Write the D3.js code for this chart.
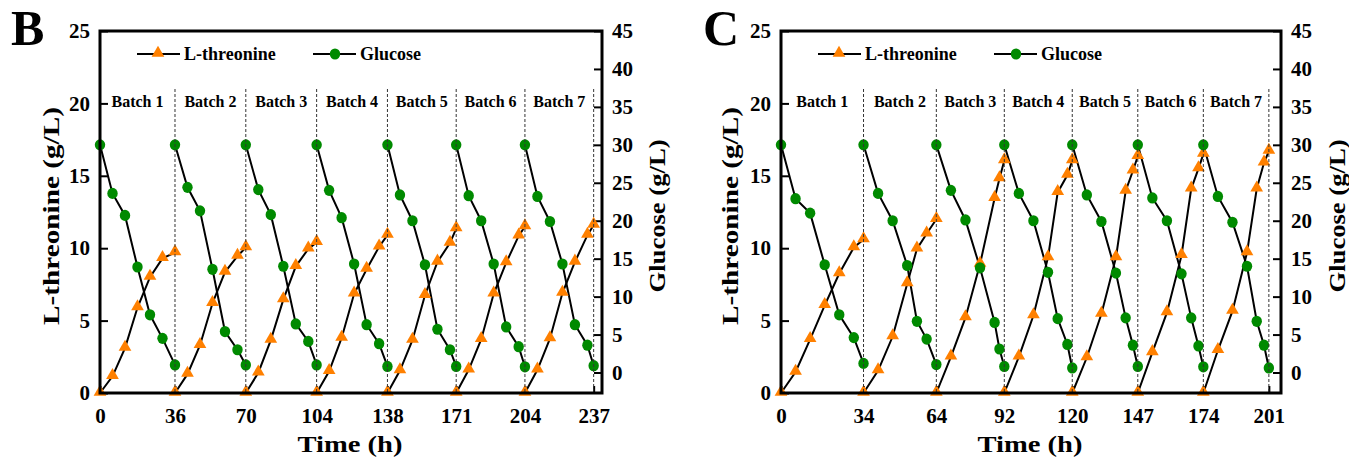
<!DOCTYPE html>
<html>
<head>
<meta charset="utf-8">
<script src="https://cdn.jsdelivr.net/npm/d3@7"></script>
<style>
  body { margin: 0; background: #fff; }
  svg text { font-family: "Liberation Serif", "Times New Roman", serif; font-weight: bold; }
</style>
</head>
<body>
<svg id="chart" width="1349" height="458"></svg>
<script>
// batch labels and axis ticks
var batchLabels = ["Batch 1", "Batch 2", "Batch 3", "Batch 4", "Batch 5", "Batch 6", "Batch 7"];
var leftTicks = [0, 5, 10, 15, 20, 25];
var rightTicks = [0, 5, 10, 15, 20, 25, 30, 35, 40, 45];

// panel B
var ticksB = [0, 36, 70, 104, 138, 171, 204, 237];
var timeB = [
  [0, 6, 12, 18, 24, 30, 36],
  [36, 42, 48, 54, 60, 66, 70],
  [70, 76, 82, 88, 94, 100, 104],
  [104, 110, 116, 122, 128, 134, 138],
  [138, 144, 150, 156, 162, 168, 171],
  [171, 177, 183, 189, 195, 201, 204],
  [204, 210, 216, 222, 228, 234, 237]
];
var thrB = [
  [0, 1.15, 3.1, 5.9, 8.0, 9.3, 9.7],
  [0, 1.3, 3.3, 6.2, 8.35, 9.45, 10.05],
  [0, 1.4, 3.65, 6.45, 8.75, 9.95, 10.4],
  [0, 1.5, 3.8, 6.85, 8.55, 10.1, 10.9],
  [0, 1.55, 3.65, 6.75, 9.05, 10.35, 11.35],
  [0, 1.6, 3.7, 6.85, 9.0, 10.85, 11.5],
  [0, 1.6, 3.75, 6.9, 9.05, 10.9, 11.6]
];
var gluB = [
  [30, 23.6, 20.7, 13.9, 7.6, 4.5, 1.0],
  [30, 24.4, 21.3, 13.6, 5.4, 3.0, 1.0],
  [30, 24.1, 20.8, 14.0, 6.4, 4.1, 1.0],
  [30, 24.0, 20.4, 14.3, 6.3, 3.8, 0.8],
  [30, 23.4, 20.0, 14.2, 5.7, 3.0, 0.8],
  [30, 23.3, 20.0, 14.3, 6.0, 3.4, 0.75],
  [30, 23.2, 19.9, 14.3, 6.3, 3.6, 0.9]
];

// panel C
var ticksC = [0, 34, 64, 92, 120, 147, 174, 201];
var timeC = [
  [0, 6, 12, 18, 24, 30, 34],
  [34, 40, 46, 52, 56, 60, 64],
  [64, 70, 76, 82, 88, 90, 92],
  [92, 98, 104, 110, 114, 118, 120],
  [120, 126, 132, 138, 142, 145, 147],
  [147, 153, 159, 165, 169, 172, 174],
  [174, 180, 186, 192, 196, 199, 201]
];
var thrC = [
  [0, 1.45, 3.7, 6.05, 8.25, 10.05, 10.6],
  [0, 1.55, 3.9, 7.55, 9.95, 11.0, 12.0],
  [0, 2.5, 5.2, 8.9, 13.45, 14.8, 16.05],
  [0, 2.5, 5.35, 9.35, 13.85, 15.05, 16.05],
  [0, 2.45, 5.45, 9.35, 13.95, 15.35, 16.35],
  [0, 2.8, 5.55, 9.5, 14.1, 15.5, 16.5],
  [0, 2.95, 5.65, 9.7, 14.1, 15.9, 16.7]
];
var gluC = [
  [30, 22.9, 21.0, 14.2, 7.6, 4.6, 1.2],
  [30, 23.6, 20.0, 14.1, 6.75, 4.4, 1.05],
  [30, 24.0, 20.1, 13.8, 6.6, 3.1, 0.8],
  [30, 23.6, 20.0, 13.2, 7.1, 3.7, 0.6],
  [30, 23.4, 19.9, 13.1, 7.2, 3.6, 0.8],
  [30, 23.0, 20.0, 13.0, 7.2, 3.5, 0.75],
  [30, 23.2, 19.8, 14.0, 6.75, 3.6, 0.6]
];

var orange = "#ff8000", green = "#008a00";
var svg = d3.select("#chart");
var plotTop = 31, plotBottom = 393;

var panels = [
  { letter: "B", lx: 11, left: 100, right: 602, xMax: 241, ticks: ticksB, time: timeB, thr: thrB, glu: gluB, tl: 51, tr: 657 },
  { letter: "C", lx: 703, left: 781, right: 1281, xMax: 206, ticks: ticksC, time: timeC, thr: thrC, glu: gluC, tl: 730, tr: 1337 }
];

panels.forEach(function (p) {
  var g = svg.append("g");
  var x = d3.scaleLinear().domain([0, p.xMax]).range([p.left, p.right]);
  var yL = d3.scaleLinear().domain([0, 25]).range([plotBottom, plotTop]);
  var yR = d3.scaleLinear().domain([-2.7, 45]).range([plotBottom, plotTop]);

  // panel letter
  g.append("text").attr("x", p.lx).attr("y", 45).attr("font-size", 50).text(p.letter);

  // axes
  var ax = g.append("g").attr("transform", "translate(0," + plotBottom + ")")
    .call(d3.axisBottom(x).tickValues(p.ticks).tickSize(-7).tickSizeOuter(0).tickPadding(15));
  var ayl = g.append("g").attr("transform", "translate(" + p.left + ",0)")
    .call(d3.axisLeft(yL).tickValues(leftTicks).tickSize(-8).tickSizeOuter(0).tickPadding(10));
  var ayr = g.append("g").attr("transform", "translate(" + p.right + ",0)")
    .call(d3.axisRight(yR).tickValues(rightTicks).tickSize(-8).tickSizeOuter(0).tickPadding(10));
  [ax, ayl, ayr].forEach(function (a) {
    a.select(".domain").remove();
    a.selectAll(".tick line").attr("stroke", "#000").attr("stroke-width", 2);
    a.selectAll(".tick text").attr("font-size", 21).attr("fill", "#000")
      .style("font-family", "'Liberation Serif', serif").style("font-weight", "bold");
  });

  // lines per batch
  var lineL = d3.line().x(function (d) { return x(d[0]); }).y(function (d) { return yL(d[1]); });
  var lineR = d3.line().x(function (d) { return x(d[0]); }).y(function (d) { return yR(d[1]); });
  var tri = d3.symbol().type(d3.symbolTriangle).size(70);

  p.time.forEach(function (ts, b) {
    var ptsT = ts.map(function (t, i) { return [t, p.thr[b][i]]; });
    var ptsG = ts.map(function (t, i) { return [t, p.glu[b][i]]; });
    g.append("path").attr("d", lineL(ptsT)).attr("fill", "none").attr("stroke", "#000").attr("stroke-width", 2);
    g.append("path").attr("d", lineR(ptsG)).attr("fill", "none").attr("stroke", "#000").attr("stroke-width", 2);
  });
  p.time.forEach(function (ts, b) {
    ts.forEach(function (t, i) {
      g.append("path").attr("d", tri())
        .attr("transform", "translate(" + x(t) + "," + (yL(p.thr[b][i]) - 1) + ")")
        .attr("fill", orange);
    });
  });
  p.time.forEach(function (ts, b) {
    ts.forEach(function (t, i) {
      g.append("ellipse").attr("cx", x(t)).attr("cy", yR(p.glu[b][i]))
        .attr("rx", 5.2).attr("ry", 5.6).attr("fill", green);
    });
  });

  // batch separators and labels
  p.ticks.slice(1).forEach(function (t) {
    g.append("line").attr("x1", x(t)).attr("x2", x(t)).attr("y1", 89).attr("y2", plotBottom)
      .attr("stroke", "#333").attr("stroke-width", 1).attr("stroke-dasharray", "3,2");
  });
  batchLabels.forEach(function (lab, i) {
    g.append("text").attr("x", (x(p.ticks[i]) + x(p.ticks[i + 1])) / 2).attr("y", 101)
      .attr("text-anchor", "middle").attr("dominant-baseline", "central")
      .attr("font-size", 16).text(lab);
  });

  // frame
  g.append("rect").attr("x", p.left).attr("y", plotTop).attr("width", p.right - p.left).attr("height", plotBottom - plotTop)
    .attr("fill", "none").attr("stroke", "#000").attr("stroke-width", 3);

  // legend
  var ly = 54;
  g.append("line").attr("x1", p.left + 37).attr("x2", p.left + 80).attr("y1", ly).attr("y2", ly).attr("stroke", "#000").attr("stroke-width", 2);
  g.append("path").attr("d", tri()).attr("transform", "translate(" + (p.left + 58) + "," + (ly - 1) + ")").attr("fill", orange);
  g.append("text").attr("x", p.left + 84).attr("y", ly).attr("dominant-baseline", "central").attr("font-size", 18).text("L-threonine");
  g.append("line").attr("x1", p.left + 213).attr("x2", p.left + 256).attr("y1", ly).attr("y2", ly).attr("stroke", "#000").attr("stroke-width", 2);
  g.append("ellipse").attr("cx", p.left + 235).attr("cy", ly).attr("rx", 5.2).attr("ry", 5.6).attr("fill", green);
  g.append("text").attr("x", p.left + 260).attr("y", ly).attr("dominant-baseline", "central").attr("font-size", 18).text("Glucose");

  // axis titles
  g.append("text").attr("x", (p.left + p.right) / 2 - 1).attr("y", 452).attr("text-anchor", "middle")
    .attr("font-size", 24).attr("textLength", 105).attr("lengthAdjust", "spacingAndGlyphs").text("Time (h)");
  g.append("text").attr("transform", "translate(" + p.tl + ",216) rotate(-90)")
    .attr("text-anchor", "middle").attr("dominant-baseline", "central")
    .attr("font-size", 24).attr("textLength", 218).attr("lengthAdjust", "spacingAndGlyphs").text("L-threonine (g/L)");
  g.append("text").attr("transform", "translate(" + p.tr + ",216) rotate(-90)")
    .attr("text-anchor", "middle").attr("dominant-baseline", "central")
    .attr("font-size", 24).attr("textLength", 153).attr("lengthAdjust", "spacingAndGlyphs").text("Glucose (g/L)");
});
</script>
</body>
</html>
